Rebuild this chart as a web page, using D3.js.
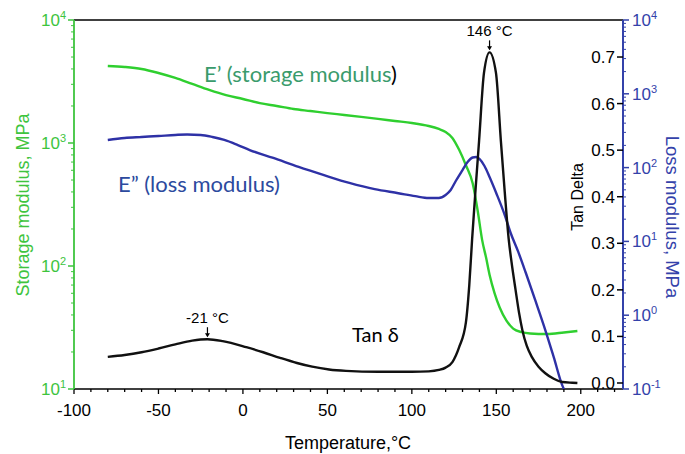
<!DOCTYPE html>
<html>
<head>
<meta charset="utf-8">
<script src="https://cdn.jsdelivr.net/npm/d3@7"></script>
<style>
  body { margin: 0; background: #fff; }
  svg { display: block; font-family: "Liberation Sans", Arial, sans-serif; }
</style>
</head>
<body>
<svg id="chart" width="685" height="454"></svg>
<script>
// storage modulus E' (MPa) vs temperature
const storageTemp = [-80, -70, -60, -50, -40, -30, -20, -10, 0, 10, 20, 30, 40, 50, 60, 70, 80, 90, 100, 110, 116, 120, 124, 128, 132, 136, 139, 141.6, 144, 146, 149, 152, 156, 160, 165, 170, 180, 190, 198];
const storageMPa = [4230, 4150, 4000, 3710, 3380, 3020, 2700, 2450, 2280, 2110, 2000, 1890, 1820, 1750, 1690, 1630, 1570, 1510, 1455, 1375, 1300, 1230, 1100, 880, 660, 470, 280, 163, 116, 85, 60, 46, 36, 31, 29, 28.3, 28, 28.8, 29.6];

// loss modulus E'' (MPa)
const lossTemp = [-80, -70, -60, -50, -40, -33, -25, -18, -11, -3, 4, 18, 33, 48, 63, 78, 92, 102, 110, 116, 120, 123, 126, 130, 133, 136, 138, 140, 143, 146, 150, 155, 158.5, 163, 167.5, 173, 179, 184, 189, 190];
const lossMPa = [237, 252, 260, 268, 277, 281, 277, 260, 237, 202, 173, 135, 102, 79, 62, 51, 45, 41, 38.7, 38.7, 42.6, 49.7, 65.8, 92.7, 119, 137, 139, 131, 105, 74.6, 45, 22.8, 13, 7.2, 3.73, 1.61, 0.63, 0.27, 0.113, 0.1];

// tan delta
const tanTemp = [-80, -70, -60, -50, -40, -30, -21, -12, 2, 12, 22, 32, 41, 51, 61, 80, 100, 110, 116, 120, 124, 128, 132, 134, 135.7, 137.8, 139.8, 142.7, 146, 149.8, 152.7, 155, 157.3, 159, 161.4, 163.5, 165.4, 168, 171, 175, 179, 184, 189, 195, 198];
const tanDelta = [0.056, 0.060, 0.066, 0.074, 0.083, 0.091, 0.094, 0.090, 0.077, 0.066, 0.054, 0.043, 0.035, 0.029, 0.026, 0.024, 0.024, 0.025, 0.028, 0.033, 0.045, 0.077, 0.13, 0.21, 0.31, 0.42, 0.52, 0.666, 0.71, 0.666, 0.52, 0.41, 0.31, 0.26, 0.20, 0.15, 0.114, 0.08, 0.056, 0.035, 0.021, 0.009, 0.002, 0.0005, 0];

const xTicks = [-100, -50, 0, 50, 100, 150, 200];
const storageTicks = [10, 100, 1000, 10000];
const lossTicks = [0.1, 1, 10, 100, 1000, 10000];
const tanTicks = [0, 0.1, 0.2, 0.3, 0.4, 0.5, 0.6, 0.7];
const peaks = [{ t: -21, v: 0.094, label: '-21 °C' }, { t: 146, v: 0.71, label: '146 °C' }];

const green = '#2fcf2f', blue = '#2e31a6', axisGreen = '#3ec43e', axisBlue = '#3442aa';
const pLeft = 74, pRight = 623, pTop = 20, pBottom = 389;

const svg = d3.select('#chart');
const x = d3.scaleLinear().domain([-100, 225]).range([pLeft, pRight]);
const yStorage = d3.scaleLog().domain([10, 10000]).range([pBottom, pTop]);
const yLoss = d3.scaleLog().domain([0.1, 10000]).range([pBottom, pTop]);
const yTan = d3.scaleLinear().domain([-0.0129, 0.7795]).range([pBottom, pTop]);

svg.append('clipPath').attr('id', 'plot')
   .append('rect').attr('x', pLeft).attr('y', pTop).attr('width', pRight - pLeft).attr('height', pBottom - pTop);

const supLabel = ( g, v ) => {
   const e = Math.round( Math.log10( v ) );
   g.text( '10' ).append( 'tspan' ).attr( 'dy', -7 ).attr( 'font-size', 11 ).text( e );
};
const minorLog = domain => {
   const out = [];
   for( let d = domain[0]; d < domain[1] * 0.999; d *= 10 ) {
      for( let k = 2; k < 10; k++ ) out.push( d * k );
   }
   return out;
};

// top border
svg.append('line').attr('x1', pLeft).attr('x2', pRight).attr('y1', pTop).attr('y2', pTop)
   .attr('stroke', '#000').attr('stroke-width', 1.5);

// bottom axis
const xAxis = svg.append('g').attr('transform', `translate(0,${pBottom})`);
xAxis.append('line').attr('x1', pLeft).attr('x2', pRight).attr('stroke', '#000').attr('stroke-width', 1.5);
xAxis.selectAll('.minor').data(d3.range(-100, 226, 10)).join('line')
   .attr('x1', d => x(d)).attr('x2', d => x(d)).attr('y2', d => d % 50 === 0 ? 5 : 3)
   .attr('stroke', '#000').attr('stroke-width', 1.3);
xAxis.selectAll('text').data(xTicks).join('text')
   .attr('x', d => x(d)).attr('y', 27).attr('text-anchor', 'middle').attr('font-size', 17)
   .text(d => d);
svg.append('text').attr('x', 348).attr('y', 449).attr('text-anchor', 'middle').attr('font-size', 18)
   .text('Temperature,°C');

// left axis (storage modulus)
const yl = svg.append('g');
yl.append('line').attr('x1', pLeft).attr('x2', pLeft).attr('y1', pTop).attr('y2', pBottom)
   .attr('stroke', axisGreen).attr('stroke-width', 1.8);
yl.selectAll('.mn').data(minorLog([10, 10000])).join('line')
   .attr('x1', pLeft - 3).attr('x2', pLeft).attr('y1', d => yStorage(d)).attr('y2', d => yStorage(d))
   .attr('stroke', axisGreen);
yl.selectAll('.mj').data(storageTicks).join('line')
   .attr('x1', pLeft - 6).attr('x2', pLeft).attr('y1', d => yStorage(d)).attr('y2', d => yStorage(d))
   .attr('stroke', axisGreen).attr('stroke-width', 1.5);
yl.selectAll('text').data(storageTicks).join('text')
   .attr('x', pLeft - 8).attr('y', d => yStorage(d) + 6).attr('text-anchor', 'end').attr('font-size', 17)
   .attr('fill', axisGreen).each(function (d) { supLabel(d3.select(this), d); });
svg.append('text').attr('transform', 'translate(29,205) rotate(-90)').attr('text-anchor', 'middle')
   .attr('font-size', 18).attr('fill', axisGreen).text('Storage modulus, MPa');

// right axis (loss modulus, outward) + tan delta (inward)
const yr = svg.append('g');
yr.append('line').attr('x1', pRight).attr('x2', pRight).attr('y1', pTop).attr('y2', pBottom)
   .attr('stroke', axisBlue).attr('stroke-width', 2);
yr.selectAll('.mn').data(minorLog([0.1, 10000])).join('line')
   .attr('x1', pRight).attr('x2', pRight + 3).attr('y1', d => yLoss(d)).attr('y2', d => yLoss(d))
   .attr('stroke', axisBlue);
yr.selectAll('.mj').data(lossTicks).join('line')
   .attr('x1', pRight).attr('x2', pRight + 6).attr('y1', d => yLoss(d)).attr('y2', d => yLoss(d))
   .attr('stroke', axisBlue).attr('stroke-width', 1.5);
yr.selectAll('.lt').data(lossTicks).join('text')
   .attr('x', pRight + 9).attr('y', d => yLoss(d) + 6).attr('font-size', 17)
   .attr('fill', axisBlue).each(function (d) { supLabel(d3.select(this), d); });
yr.selectAll('.tk').data(tanTicks).join('line')
   .attr('x1', pRight - 6).attr('x2', pRight).attr('y1', d => yTan(d)).attr('y2', d => yTan(d))
   .attr('stroke', '#000').attr('stroke-width', 1.5);
yr.selectAll('.tt').data(tanTicks).join('text')
   .attr('x', pRight - 8).attr('y', d => yTan(d) + 6).attr('text-anchor', 'end').attr('font-size', 17)
   .text(d => d.toFixed(1));
svg.append('text').attr('transform', 'translate(583,197) rotate(-90)').attr('text-anchor', 'middle')
   .attr('font-size', 16).text('Tan Delta');
svg.append('text').attr('transform', 'translate(666,217) rotate(90)').attr('text-anchor', 'middle')
   .attr('font-size', 18.5).attr('fill', axisBlue).text('Loss modulus, MPa');

// curves
const plot = svg.append('g').attr('clip-path', 'url(#plot)');
const line = (ts, vs, ys) => d3.line().curve(d3.curveMonotoneX)
   .x((d, i) => x(ts[i])).y(d => ys(d))(vs);
plot.append('path').attr('d', line(storageTemp, storageMPa, yStorage))
   .attr('fill', 'none').attr('stroke', green).attr('stroke-width', 2.4);
plot.append('path').attr('d', line(lossTemp, lossMPa, yLoss))
   .attr('fill', 'none').attr('stroke', blue).attr('stroke-width', 2.4);
plot.append('path').attr('d', line(tanTemp, tanDelta, yTan))
   .attr('fill', 'none').attr('stroke', '#111').attr('stroke-width', 2.4);

// peak annotations
peaks.forEach(p => {
   const px = x(p.t), py = yTan(p.v);
   svg.append('line').attr('x1', px).attr('x2', px).attr('y1', py - 12).attr('y2', py - 3)
      .attr('stroke', '#000').attr('stroke-width', 1.2);
   svg.append('path').attr('d', `M${px - 2.5},${py - 6}L${px},${py - 2}L${px + 2.5},${py - 6}Z`).attr('fill', '#000');
   svg.append('text').attr('x', px).attr('y', py - 16).attr('text-anchor', 'middle').attr('font-size', 15)
      .text(p.label);
});

// curve labels
const sl = svg.append('text').attr('x', 204).attr('y', 82).attr('font-family', 'Lato, sans-serif').attr('font-size', 22);
sl.append('tspan').attr('fill', '#3a9b6c').text('E’ (storage modulus');
sl.append('tspan').attr('fill', '#000').text(')');
svg.append('text').attr('x', 280).attr('y', 192).attr('text-anchor', 'end').attr('font-family', 'Lato, sans-serif').attr('font-size', 22)
   .attr('fill', '#2c4a9e').text('E” (loss modulus)');
svg.append('text').attr('x', 352).attr('y', 342).attr('font-family', 'Lato, sans-serif').attr('font-size', 20)
   .attr('fill', '#000').text('Tan δ');
</script>
</body>
</html>
